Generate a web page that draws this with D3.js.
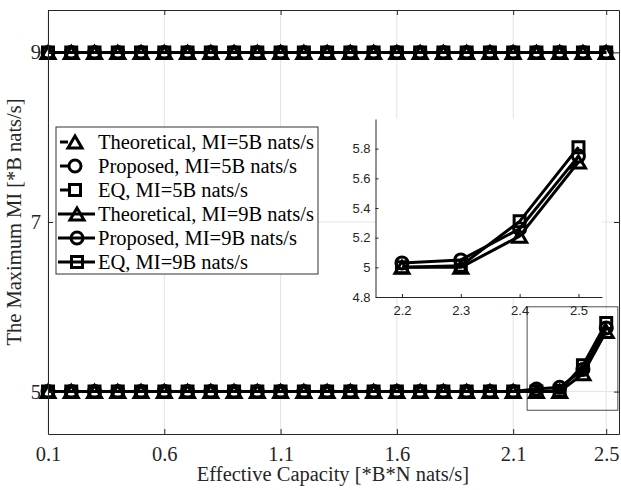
<!DOCTYPE html>
<html>
<head>
<meta charset="utf-8">
<script src="https://cdnjs.cloudflare.com/ajax/libs/d3/7.8.5/d3.min.js"></script>
<style>
body { margin: 0; background: #fff; }
</style>
</head>
<body>
<svg id="chart" width="621" height="490"></svg>
<script>
// data
const capacity = [0.1, 0.2, 0.3, 0.4, 0.5, 0.6, 0.7, 0.8, 0.9, 1.0, 1.1, 1.2, 1.3,
                  1.4, 1.5, 1.6, 1.7, 1.8, 1.9, 2.0, 2.1, 2.2, 2.3, 2.4, 2.5];
const theo5 = [5, 5, 5, 5, 5, 5, 5, 5, 5, 5, 5, 5, 5, 5, 5, 5, 5, 5, 5, 5, 5, 5, 5, 5.21, 5.71];
const prop5 = [5, 5, 5, 5, 5, 5, 5, 5, 5, 5, 5, 5, 5, 5, 5, 5, 5, 5, 5, 5, 5, 5.03, 5.05, 5.26, 5.75];
const eq5   = [5, 5, 5, 5, 5, 5, 5, 5, 5, 5, 5, 5, 5, 5, 5, 5, 5, 5, 5, 5, 5, 5, 5.01, 5.31, 5.81];
const theo9 = [9, 9, 9, 9, 9, 9, 9, 9, 9, 9, 9, 9, 9, 9, 9, 9, 9, 9, 9, 9, 9, 9, 9, 9, 9];
const prop9 = [9, 9, 9, 9, 9, 9, 9, 9, 9, 9, 9, 9, 9, 9, 9, 9, 9, 9, 9, 9, 9, 9, 9, 9, 9];
const eq9   = [9, 9, 9, 9, 9, 9, 9, 9, 9, 9, 9, 9, 9, 9, 9, 9, 9, 9, 9, 9, 9, 9, 9, 9, 9];

const seriesNames = ["Theoretical, MI=5B nats/s", "Proposed, MI=5B nats/s", "EQ, MI=5B nats/s",
                     "Theoretical, MI=9B nats/s", "Proposed, MI=9B nats/s", "EQ, MI=9B nats/s"];
const seriesValues = [theo5, prop5, eq5, theo9, prop9, eq9];
const seriesMarkers = ["triangle", "circle", "square", "triangle", "circle", "square"];
const seriesDashed = [true, true, true, false, false, false];

const xTicks = [0.1, 0.6, 1.1, 1.6, 2.1, 2.5];
const yTicks = [5, 7, 9];
const insetXTicks = [2.2, 2.3, 2.4, 2.5];
const insetYTicks = [4.8, 5, 5.2, 5.4, 5.6, 5.8];
const zoomBox = [2.16, 2.55, 4.78, 6.0];   // x0, x1, y0, y1 in data units

const serif = "'Liberation Serif', 'Times New Roman', serif";
const sans = "'Liberation Sans', Arial, sans-serif";
const axisColor = "#262626";
const gridColor = "#e3e3e3";
const fontSize = 20.5;
const lw = 3;

const svg = d3.select("#chart");

const x = d3.scaleLinear().domain([0.1, 2.555]).range([48, 619]);
const y = d3.scaleLinear().domain([4.5, 9.5]).range([434, 10]);

const ix = d3.scaleLinear().domain([2.155, 2.54]).range([375.5, 602]);
const iy = d3.scaleLinear().domain([4.8, 6.0]).range([297, 119]);

function markerPath(type) {
	if (type == "triangle") {
		let s = 14, h = 12;
		return "M0," + (-h/2) + "L" + (s/2) + "," + (h/2) + "L" + (-s/2) + "," + (h/2) + "Z";
	} else if (type == "square") {
		let s = 11;
		return "M" + (-s/2) + "," + (-s/2) + "h" + s + "v" + s + "h" + (-s) + "Z";
	}
	let r = 6;
	return "M" + (-r) + ",0A" + r + "," + r + " 0 1,1 " + r + ",0A" + r + "," + r + " 0 1,1 " + (-r) + ",0Z";
}

function seriesPoints(vals) {
	return capacity.map(function(c, i) { return { x: c, y: vals[i] }; });
}

function drawSeries(g, sx, sy, filter) {
	seriesValues.forEach(function(vals, k) {
		let pts = seriesPoints(vals).filter(filter);
		g.append("path")
			.datum(pts)
			.attr("fill", "none")
			.attr("stroke", "#000")
			.attr("stroke-width", lw)
			.attr("stroke-linejoin", "round")
			.attr("d", d3.line().x(function(d) { return sx(d.x); }).y(function(d) { return sy(d.y); }));
		g.selectAll(null)
			.data(pts)
			.enter().append("path")
			.attr("transform", function(d) { return "translate(" + sx(d.x) + "," + sy(d.y) + ")"; })
			.attr("d", markerPath(seriesMarkers[k]))
			.attr("fill", "none")
			.attr("stroke", "#000")
			.attr("stroke-width", lw);
	});
}

// grid
let grid = svg.append("g");
grid.selectAll(null).data(xTicks).enter().append("line")
	.attr("x1", function(d) { return x(d); }).attr("x2", function(d) { return x(d); })
	.attr("y1", y.range()[1]).attr("y2", y.range()[0])
	.attr("stroke", gridColor).attr("stroke-width", 1);
grid.selectAll(null).data(yTicks).enter().append("line")
	.attr("y1", function(d) { return y(d); }).attr("y2", function(d) { return y(d); })
	.attr("x1", x.range()[0]).attr("x2", x.range()[1])
	.attr("stroke", gridColor).attr("stroke-width", 1);

// zoom rectangle
svg.append("rect")
	.attr("x", x(zoomBox[0]))
	.attr("y", y(zoomBox[3]))
	.attr("width", x(zoomBox[1]) - x(zoomBox[0]))
	.attr("height", y(zoomBox[2]) - y(zoomBox[3]))
	.attr("fill", "none")
	.attr("stroke", "#4d4d4d")
	.attr("stroke-width", 1);

drawSeries(svg.append("g"), x, y, function(d) { return true; });

// axes, MATLAB style box with inward ticks
function styleAxis(g, font, size) {
	g.select(".domain").attr("stroke", axisColor);
	g.selectAll(".tick line").attr("stroke", axisColor);
	g.selectAll(".tick text").attr("fill", axisColor).style("font-family", font).style("font-size", size + "px");
}

svg.append("g")
	.attr("transform", "translate(0," + y.range()[0] + ")")
	.call(d3.axisBottom(x).tickValues(xTicks).tickSize(-5).tickSizeOuter(0).tickPadding(12).tickFormat(d3.format(".1f")))
	.call(function(g) { styleAxis(g, serif, fontSize); });
svg.append("g")
	.attr("transform", "translate(0," + y.range()[1] + ")")
	.call(d3.axisTop(x).tickValues(xTicks).tickSize(-5).tickSizeOuter(0).tickFormat(""))
	.call(function(g) { styleAxis(g, serif, fontSize); });
svg.append("g")
	.attr("transform", "translate(" + x.range()[0] + ",0)")
	.call(d3.axisLeft(y).tickValues(yTicks).tickSize(-5).tickSizeOuter(0).tickPadding(7).tickFormat(d3.format("d")))
	.call(function(g) { styleAxis(g, serif, fontSize); });
svg.append("g")
	.attr("transform", "translate(" + x.range()[1] + ",0)")
	.call(d3.axisRight(y).tickValues(yTicks).tickSize(-5).tickSizeOuter(0).tickFormat(""))
	.call(function(g) { styleAxis(g, serif, fontSize); });

// axis labels
svg.append("text")
	.attr("x", 333)
	.attr("y", 481)
	.style("text-anchor", "middle")
	.style("font-family", serif)
	.style("font-size", fontSize + "px")
	.attr("fill", axisColor)
	.text("Effective Capacity [*B*N nats/s]");

svg.append("text")
	.attr("transform", "translate(21,222) rotate(-90)")
	.style("text-anchor", "middle")
	.style("font-family", serif)
	.style("font-size", fontSize + "px")
	.attr("fill", axisColor)
	.text("The Maximum MI [*B nats/s]");

// legend
let legend = svg.append("g");
legend.append("rect")
	.attr("x", 56).attr("y", 127)
	.attr("width", 262).attr("height", 147)
	.attr("fill", "#fff")
	.attr("stroke", "#333")
	.attr("stroke-width", 1);
seriesNames.forEach(function(name, k) {
	let ry = 142 + k * 24;
	let row = legend.append("g").attr("transform", "translate(0," + ry + ")");
	row.append("line")
		.attr("x1", seriesDashed[k] ? 60 : 58)
		.attr("x2", seriesDashed[k] ? 68 : 95)
		.attr("stroke", "#000")
		.attr("stroke-width", lw);
	row.append("path")
		.attr("transform", "translate(" + (seriesDashed[k] ? 75 : 77) + ",0)")
		.attr("d", markerPath(seriesMarkers[k]))
		.attr("fill", "none")
		.attr("stroke", "#000")
		.attr("stroke-width", lw);
	row.append("text")
		.attr("x", 98)
		.attr("dy", "0.33em")
		.style("font-family", serif)
		.style("font-size", fontSize + "px")
		.attr("fill", "#000")
		.text(name);
});

// inset
let inset = svg.append("g");
inset.append("rect")
	.attr("x", ix.range()[0]).attr("y", iy.range()[1])
	.attr("width", ix.range()[1] - ix.range()[0])
	.attr("height", iy.range()[0] - iy.range()[1])
	.attr("fill", "#fff");
drawSeries(inset.append("g"), ix, iy, function(d) { return d.x >= 2.2 && d.y < 6; });
inset.append("g")
	.attr("transform", "translate(0," + iy.range()[0] + ")")
	.call(d3.axisBottom(ix).tickValues(insetXTicks).tickSize(-3).tickSizeOuter(0).tickPadding(9).tickFormat(d3.format(".1f")))
	.call(function(g) { styleAxis(g, sans, 13); });
inset.append("g")
	.attr("transform", "translate(" + ix.range()[0] + ",0)")
	.call(d3.axisLeft(iy).tickValues(insetYTicks).tickSize(-3).tickSizeOuter(0).tickPadding(5).tickFormat(function(d) { return d == 5 ? "5" : d3.format(".1f")(d); }))
	.call(function(g) { styleAxis(g, sans, 13); });
</script>
</body>
</html>
